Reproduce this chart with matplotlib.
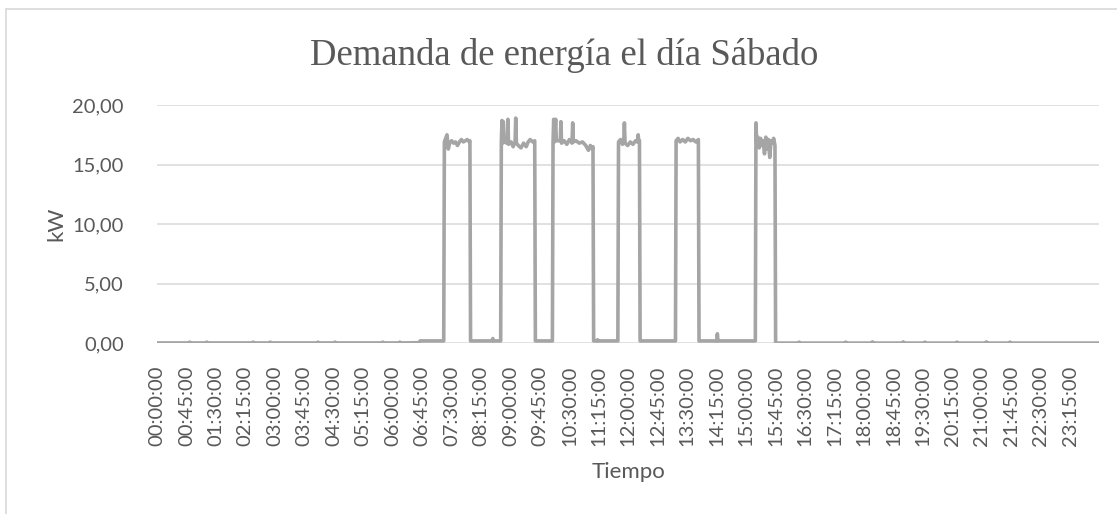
import matplotlib.pyplot as plt
from matplotlib.patches import Rectangle

# minutes after 00:00 and demand in kW
minutos = [0, 49, 50, 51, 75, 76, 77, 146, 147, 148, 172, 173, 174, 245, 246, 247,
           271, 272, 273, 344, 345, 346, 370, 371, 372, 400, 402, 438,
           439, 441, 443, 445, 447, 450, 453, 456, 459, 462, 465, 468, 471, 474, 477, 478, 479,
           490, 512, 513, 514, 525,
           526, 527, 528, 529, 530, 535, 536, 537, 541, 544, 547, 548, 549, 552, 556, 560,
           564, 567, 570, 574, 577, 578,
           590, 604,
           605, 606, 607, 609, 610, 616, 617, 618, 622, 626, 630, 634, 635, 636, 640, 645,
           650, 655, 659, 662, 665, 666, 667,
           672, 673, 674, 704,
           705, 708, 711, 713, 714, 715, 719, 723, 727, 731, 734, 735, 736, 737, 738,
           760, 792,
           793, 796, 799, 803, 807, 811, 815, 819, 823, 826, 827, 828,
           855, 856, 857, 914,
           915, 916, 918, 920, 922, 924, 926, 928, 930, 932, 934, 936, 938, 940, 942, 944, 945,
           980, 981, 982, 1051, 1052, 1053, 1092, 1093, 1094, 1139, 1140, 1141,
           1172, 1173, 1174, 1221, 1222, 1223, 1266, 1267, 1268, 1302, 1303, 1304, 1439]
demanda = [0.03, 0.03, 0.1, 0.03, 0.03, 0.1, 0.03, 0.03, 0.1, 0.03, 0.03, 0.1, 0.03, 0.03, 0.1, 0.03,
           0.03, 0.1, 0.03, 0.03, 0.1, 0.03, 0.03, 0.1, 0.03, 0.05, 0.2, 0.2,
           16.9, 17.2, 17.5, 16.3, 16.8, 17.0, 16.8, 16.9, 16.6, 16.9, 17.1, 16.9, 17.0, 17.1, 16.9, 17.0, 0.2,
           0.2, 0.2, 0.4, 0.2, 0.2,
           16.9, 18.7, 16.8, 18.6, 16.9, 16.8, 18.8, 16.7, 16.9, 16.5, 16.9, 18.9, 16.8, 16.6, 16.4, 16.8,
           16.5, 16.9, 17.1, 16.9, 17.0, 0.2,
           0.2, 0.2,
           16.9, 18.8, 16.9, 18.8, 17.0, 17.0, 18.6, 16.8, 17.0, 16.7, 17.1, 16.8, 18.5, 16.9, 17.0, 16.8,
           16.9, 16.6, 16.2, 16.6, 16.3, 16.5, 0.2,
           0.2, 0.3, 0.2, 0.2,
           16.9, 17.1, 16.7, 16.9, 18.5, 16.8, 16.6, 16.9, 16.7, 17.0, 16.9, 17.5, 16.9, 17.0, 0.2,
           0.2, 0.2,
           17.0, 17.2, 16.9, 17.1, 16.9, 17.2, 17.0, 17.1, 16.9, 17.0, 17.1, 0.2,
           0.2, 0.8, 0.2, 0.2,
           18.5, 16.9, 17.3, 16.4, 17.2, 16.6, 17.0, 15.9, 17.3, 16.3, 17.1, 15.6, 17.0, 16.8, 17.2, 16.6, 0.02,
           0.02, 0.1, 0.02, 0.02, 0.1, 0.02, 0.02, 0.12, 0.02, 0.02, 0.12, 0.02,
           0.02, 0.1, 0.02, 0.02, 0.1, 0.02, 0.02, 0.12, 0.02, 0.02, 0.1, 0.02, 0.02]

tick_min = list(range(0, 1440, 45))
tick_labels = [f"{m // 60:02d}:{m % 60:02d}:00" for m in tick_min]
y_ticks = [0, 5, 10, 15, 20]

plt.rcParams['font.family'] = ['Lato', 'DejaVu Sans']
gris_txt = '#595959'

fig = plt.figure(figsize=(11.17, 5.14), dpi=100)
ax = fig.add_axes([157 / 1117, 1 - 343.3 / 514, 942 / 1117, 238.3 / 514])

# chart border
fig.patches.append(Rectangle((5.5 / 1117, -0.1), 1.2, 1 - 8.5 / 514 + 0.1,
                             transform=fig.transFigure, fill=False,
                             edgecolor='#D9D9D9', linewidth=1.2))

ax.plot(minutos, demanda, color='#A5A5A5', linewidth=2.6, solid_joinstyle='round')

ax.set_xlim(0, 1439)
ax.set_ylim(0, 20)
ax.set_yticks(y_ticks)
ax.set_yticklabels([f"{v:.2f}".replace('.', ',') for v in y_ticks])
ax.set_xticks(tick_min)
ax.set_xticklabels(tick_labels, rotation=90)
ax.tick_params(axis='both', length=0, labelsize=14.5, colors=gris_txt)
ax.tick_params(axis='y', pad=24)
ax.tick_params(axis='x', pad=16)
ax.grid(axis='y', color='#D9D9D9', linewidth=1.1)
ax.set_axisbelow(True)
for s in ax.spines.values():
    s.set_visible(False)

ax.set_xlabel('Tiempo', fontsize=16, color=gris_txt)
ax.xaxis.set_label_coords(0.5, (343.3 - 472) / 238.3)
ax.xaxis.label.set_va('center')
ax.set_ylabel('kW', fontsize=16, color=gris_txt)
ax.yaxis.set_label_coords((56 - 157) / 942, 0.5)
ax.yaxis.label.set_va('center')

fig.text(564 / 1117, 1 - 65 / 514, 'Demanda de energía el día Sábado',
         family='Liberation Serif', fontsize=26.5, color=gris_txt,
         ha='center', va='baseline')

fig.savefig('out.png', dpi=100)
